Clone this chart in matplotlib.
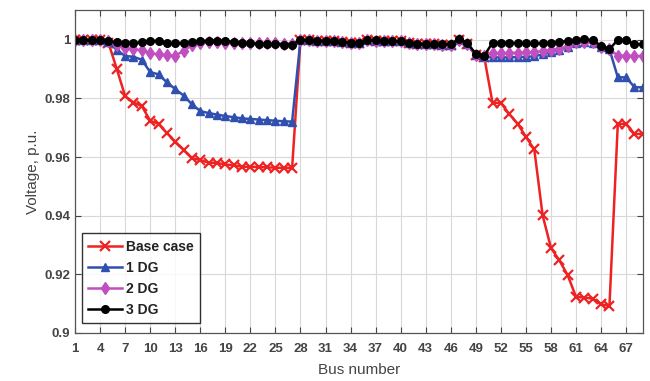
import matplotlib
matplotlib.use("Agg")
import matplotlib.pyplot as plt
import numpy as np

plt.rcParams['font.family'] = ['Liberation Sans', 'DejaVu Sans']

bus = np.arange(1, 70)

# base case voltages (p.u.)
base_case = [1.0000, 1.0000, 0.9999, 0.9998, 0.9990, 0.9901, 0.9808, 0.9786, 0.9774, 0.9724,
             0.9713, 0.9682, 0.9653, 0.9624, 0.9596, 0.9590, 0.9581, 0.9580, 0.9575, 0.9572,
             0.9567, 0.9567, 0.9566, 0.9565, 0.9564, 0.9563, 0.9563, 0.9999, 0.9999, 0.9997,
             0.9997, 0.9996, 0.9993, 0.9990, 0.9989, 0.9999, 0.9997, 0.9996, 0.9995, 0.9995,
             0.9988, 0.9986, 0.9985, 0.9985, 0.9984, 0.9984, 0.9998, 0.9985, 0.9947, 0.9942,
             0.9785, 0.9785, 0.9747, 0.9714, 0.9669, 0.9626, 0.9401, 0.9290, 0.9248, 0.9197,
             0.9123, 0.9121, 0.9117, 0.9098, 0.9092, 0.9713, 0.9713, 0.9679, 0.9679]

mid_28_48 = [0.9999, 0.9999, 0.9997, 0.9997, 0.9996, 0.9993, 0.9990, 0.9989, 0.9999, 0.9997,
             0.9996, 0.9995, 0.9995, 0.9988, 0.9986, 0.9985, 0.9985, 0.9984, 0.9984, 0.9998, 0.9985]

dg1 = ([1.0, 1.0, 0.9999, 0.9998, 0.9993]
       + [0.9965, 0.9945, 0.9942, 0.9932, 0.9890, 0.9882, 0.9855, 0.9832, 0.9810, 0.9780, 0.9757,
          0.9750, 0.9745, 0.9740, 0.9736, 0.9732, 0.9730, 0.9728, 0.9726, 0.9724, 0.9722, 0.9721]
       + mid_28_48
       + [0.9947, 0.9942]
       + [0.9940, 0.9940, 0.9940, 0.9941, 0.9942, 0.9944, 0.9950, 0.9958, 0.9966, 0.9975,
          0.9990, 0.9992, 0.9990, 0.9975, 0.9968]
       + [0.9872, 0.9872, 0.9838, 0.9838])

dg2 = ([1.0, 1.0, 0.9999, 0.9998, 0.9995]
       + [0.9982, 0.9972, 0.9968, 0.9964, 0.9955, 0.9950, 0.9947, 0.9946, 0.9962, 0.9982, 0.9990,
          0.9991, 0.9991, 0.9990, 0.9990, 0.9989, 0.9989, 0.9989, 0.9988, 0.9988, 0.9987, 0.9987]
       + mid_28_48
       + [0.9948, 0.9944]
       + [0.9955, 0.9955, 0.9955, 0.9956, 0.9957, 0.9958, 0.9962, 0.9966, 0.9970, 0.9978,
          0.9992, 0.9994, 0.9992, 0.9977, 0.9968]
       + [0.9946, 0.9946, 0.9945, 0.9945])

dg3 = ([1.0, 1.0, 0.9999, 0.9998, 0.9995]
       + [0.9992, 0.9990, 0.9989, 0.9991, 0.9996, 0.9997, 0.9989, 0.9988, 0.9990, 0.9992, 0.9996,
          0.9997, 0.9997, 0.9996, 0.9993, 0.9990, 0.9988, 0.9987, 0.9986, 0.9985, 0.9984, 0.9984]
       + [1.0000, 0.9999, 0.9997, 0.9997, 0.9996, 0.9993, 0.9990, 0.9989, 1.0000, 0.9998,
          0.9997, 0.9996, 0.9996, 0.9989, 0.9987, 0.9986, 0.9986, 0.9985, 0.9985, 1.0003, 0.9988]
       + [0.9952, 0.9946]
       + [0.9990, 0.9990, 0.9990, 0.9989, 0.9988, 0.9988, 0.9989, 0.9990, 0.9993, 0.9996,
          1.0000, 1.0002, 0.9998, 0.9980, 0.9968]
       + [1.0000, 0.9998, 0.9985, 0.9985])

xticks = list(range(1, 68, 3))
yticks = [0.9, 0.92, 0.94, 0.96, 0.98, 1.0]
ytick_labels = ['0.9', '0.92', '0.94', '0.96', '0.98', '1']

fig = plt.figure(figsize=(6.5, 3.81), dpi=100)
ax = fig.add_axes([0.1154, 0.126, 0.8736, 0.848])

txt = '#444444'
ax.plot(bus, base_case, color='#ee2222', marker='x', ms=7, mew=1.6, lw=1.8, label='Base case')
ax.plot(bus, dg1, color='#3050b0', marker='^', ms=6, lw=1.8, label='1 DG')
ax.plot(bus, dg2, color='#c04fc0', marker='d', ms=6, lw=1.8, label='2 DG')
ax.plot(bus, dg3, color='black', marker='o', ms=5.5, lw=1.8, label='3 DG')

ax.set_xlim(1, 69)
ax.set_ylim(0.9, 1.0102)
ax.set_xticks(xticks)
ax.set_yticks(yticks)
ax.set_yticklabels(ytick_labels)
ax.grid(True, color='#d8d8d8', lw=0.8)
ax.set_axisbelow(True)
ax.tick_params(direction='in', top=True, right=True, length=4, labelsize=9.5,
               colors=txt, width=0.8)
ax.tick_params(axis='x', pad=7)
for lbl in ax.get_xticklabels() + ax.get_yticklabels():
    lbl.set_fontweight('bold')
for s in ax.spines.values():
    s.set_color('#555555')
    s.set_linewidth(0.9)

ax.set_xlabel('Bus number', fontsize=11, color=txt, labelpad=6)
ax.set_ylabel('Voltage, p.u.', fontsize=11, color=txt, labelpad=3)

leg = ax.legend(loc='lower left', bbox_to_anchor=(0.0, 0.01),
                prop={'size': 10, 'weight': 'bold'}, frameon=True,
                fancybox=False, edgecolor='black', handlelength=2.4, borderpad=0.45,
                labelspacing=0.5, handletextpad=0.3)
leg.get_frame().set_linewidth(1.0)
for t in leg.get_texts():
    t.set_color('#222222')

fig.savefig('out.png', dpi=100)
